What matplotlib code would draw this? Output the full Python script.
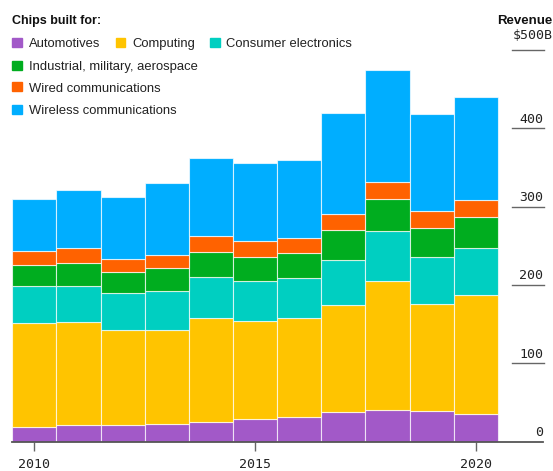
import matplotlib
matplotlib.use("Agg")
import matplotlib.pyplot as plt
from matplotlib.patches import Rectangle
from matplotlib.transforms import blended_transform_factory

# Revenue by end market, $B
years = [2010, 2011, 2012, 2013, 2014, 2015, 2016, 2017, 2018, 2019, 2020]
automotives = [18.3, 21.8, 21.8, 22.6, 25.1, 28.5, 31.9, 38.3, 40.4, 39.2, 35.4]
computing = [132.8, 130.6, 120.9, 120.1, 132.4, 126.0, 125.6, 136.2, 165.1, 137.0, 152.2]
consumer = [47.2, 46.7, 46.7, 50.0, 53.1, 50.5, 51.7, 57.4, 63.5, 59.0, 59.7]
industrial = [27.0, 29.4, 26.8, 28.5, 31.6, 31.1, 32.1, 38.7, 40.4, 37.8, 39.5]
wired = [17.5, 18.2, 16.6, 17.4, 20.0, 19.7, 19.1, 19.7, 21.7, 21.2, 21.3]
wireless = [67.2, 74.7, 79.5, 91.2, 99.7, 100.5, 98.8, 128.9, 143.8, 123.7, 132.3]

series = [automotives, computing, consumer, industrial, wired, wireless]
names = ["Automotives", "Computing", "Consumer electronics",
         "Industrial, military, aerospace", "Wired communications",
         "Wireless communications"]
colors = ["#a259c8", "#ffc400", "#00cfc1", "#00ad1f", "#ff6200", "#00aeff"]

y_ticks = [0, 100, 200, 300, 400, 500]
y_labels = ["0", "100", "200", "300", "400", "$500B"]
x_ticks = [2010, 2015, 2020]

W, H = 553, 471
fig = plt.figure(figsize=(W / 100, H / 100), dpi=100)

def px(x, y):
    # pixel coords (from top-left) -> figure fraction
    return x / W, 1 - y / H

ax = fig.add_axes([12.3 / W, (H - 441.7) / H, 530.7 / W, 391.7 / H])
ax.set_xlim(2009.5, 2009.5 + 530.7 / 44.15)
ax.set_ylim(0, 500)

bottom = [0] * len(years)
for vals, c in zip(series, colors):
    ax.bar(years, vals, width=1.0, bottom=bottom, color=c,
           edgecolor=(1, 1, 1, 0.7), linewidth=0.8, zorder=1)
    bottom = [b + v for b, v in zip(bottom, vals)]

for s in ["top", "left", "right"]:
    ax.spines[s].set_visible(False)
ax.spines["bottom"].set_color("#555555")
ax.spines["bottom"].set_linewidth(1.3)
ax.spines["bottom"].set_zorder(3)

mono = "DejaVu Sans Mono"
ax.set_yticks([])
ax.set_xticks(x_ticks)
ax.set_xticklabels([str(t) for t in x_ticks], family=mono, fontsize=9.5,
                   color="#222222")
ax.tick_params(axis="x", length=6.5, width=1, color="#666666", pad=5)

trans = blended_transform_factory(ax.transAxes, ax.transData)
for v, lbl in zip(y_ticks, y_labels):
    if v > 0:
        ax.plot([0.9416, 1.0019], [v, v], transform=trans, color="#666666",
                lw=1.0, clip_on=False, zorder=3)
    if v == 500:
        ax.annotate(lbl, xy=(0.9422, v), xycoords=trans, xytext=(0, 8),
                    textcoords="offset points", ha="left", va="baseline",
                    family=mono, fontsize=9.5, color="#222222",
                    annotation_clip=False)
    else:
        ax.annotate(lbl, xy=(1.0, v), xycoords=trans, xytext=(0, 4),
                    textcoords="offset points", ha="right", va="baseline",
                    family=mono, fontsize=9.5, color="#222222",
                    annotation_clip=False)

sans = "Liberation Sans"
fig.text(*px(552, 24), "Revenue", ha="right", va="baseline", family=sans,
         fontsize=9.5, fontweight="bold", color="#111111")
fig.text(*px(12, 24), "Chips built for:", ha="left", va="baseline", family=sans,
         fontsize=9, fontweight="bold", color="#111111")

# legend, laid out like the original
legend_pos = [(12.3, 42.3), (115.7, 42.3), (210, 42.3),
              (12.3, 65), (12.3, 86.7), (12.3, 109)]
for (x, y), name, c in zip(legend_pos, names, colors):
    fx, fy = px(x, y + 4.5)
    fig.add_artist(Rectangle((fx, fy), 9.5 / W, 9 / H, color=c,
                             transform=fig.transFigure))
    fig.text(*px(x + 16.5, y + 4.8), name, ha="left", va="baseline",
             family=sans, fontsize=9.4, color="#222222")

fig.savefig("out.png", dpi=100)
